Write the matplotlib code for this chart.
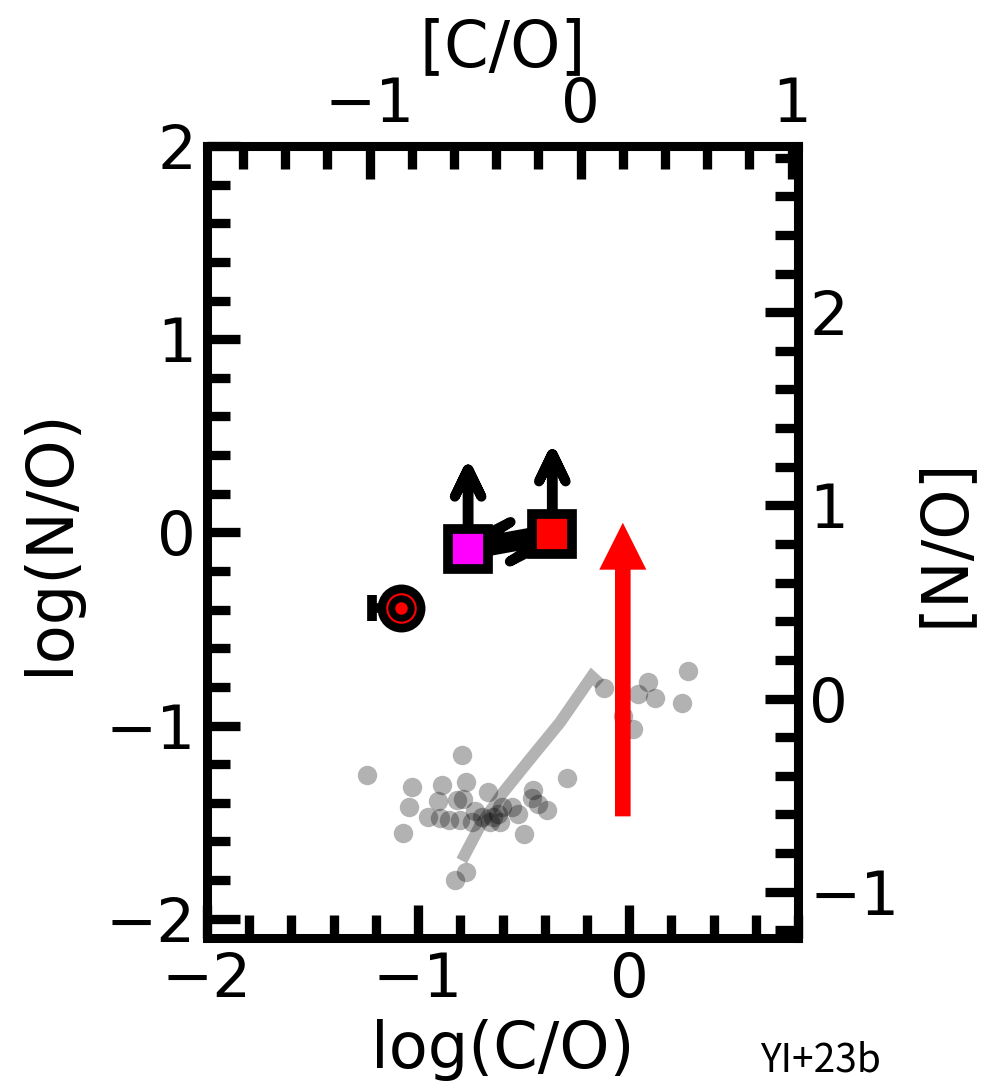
import numpy as np
import matplotlib.pyplot as plt
from matplotlib.ticker import MultipleLocator

# solar abundance ratios used for the bracket axes
CO_SUN = -0.23
NO_SUN = -0.86

# comparison sample (log C/O, log N/O)
ref_logCO = [-1.243, -0.791, -1.030, -0.888, -0.773, -1.044, -0.904, -1.073,
             -0.951, -0.896, -0.852, -0.817, -0.785, -0.801, -0.745, -0.730,
             -0.774, -0.825, -0.667, -0.295, -0.456, -0.461, -0.390, -0.430,
             -0.498, -0.525, -0.556, -0.603, -0.619, -0.643, -0.611, -0.659,
             -0.698, -0.118, 0.091, 0.044, 0.123, 0.281, 0.250, -0.027, 0.020]
ref_logNO = [-1.254, -1.152, -1.319, -1.306, -1.290, -1.421, -1.392, -1.554,
             -1.471, -1.476, -1.487, -1.383, -1.380, -1.488, -1.500, -1.440,
             -1.759, -1.802, -1.345, -1.273, -1.332, -1.376, -1.437, -1.406,
             -1.561, -1.457, -1.423, -1.423, -1.457, -1.474, -1.500, -1.500,
             -1.474, -0.803, -0.777, -0.837, -0.859, -0.717, -0.884, -0.952, -1.018]

# chemical evolution track
track_logCO = [-0.793, -0.706, -0.596, -0.469, -0.327, -0.177, -0.137]
track_logNO = [-1.699, -1.518, -1.345, -1.173, -0.983, -0.746, -0.786]

# individual objects
circ_CO, circ_NO, circ_CO_err = -1.08, -0.39, 0.137
mag_CO, mag_NO = -0.763, -0.088
red_CO, red_NO = -0.364, -0.009
limit_len = 0.413

# big red arrow (shift direction)
shift_CO = -0.03
shift_NO_start, shift_NO_end = -1.47, 0.05

fig = plt.figure(figsize=(10, 10.9), dpi=100)
ax = fig.add_axes([0.207, 0.1394, 0.591, 0.7266])

ax.plot(track_logCO, track_logNO, color='0.7', lw=8.5,
        solid_capstyle='butt', solid_joinstyle='miter', zorder=1)
ax.scatter(ref_logCO, ref_logNO, s=14**2, c='k', alpha=0.3, lw=0, zorder=2)

ax.arrow(shift_CO, shift_NO_start, 0, shift_NO_end - shift_NO_start,
         width=0.074, head_width=0.223, head_length=0.243,
         length_includes_head=True, fc='red', ec='none', zorder=3)

# circle object with one-sided error bar
ax.errorbar(circ_CO, circ_NO, xerr=[[circ_CO_err], [0]], fmt='none',
            ecolor='k', elinewidth=7, capsize=9.5, capthick=7, zorder=4)
ax.plot(circ_CO, circ_NO, 'o', ms=33, mfc='k', mec='k', mew=1.5, zorder=5)
ax.plot(circ_CO, circ_NO, 'o', ms=20.5, mfc='none', mec='red', mew=1.5, zorder=6)
ax.plot(circ_CO, circ_NO, 'o', ms=9, mfc='red', mec='none', zorder=6)

# lower limits in N/O (open arrow heads)
for x, y in [(mag_CO, mag_NO), (red_CO, red_NO)]:
    ax.arrow(x, y, 0, limit_len, width=0.004, head_width=0.126, head_length=0.14,
             overhang=1, length_includes_head=True, fc='k', ec='k', lw=7.2,
             joinstyle='round', capstyle='round', zorder=4)

# two half-headed arrows linking the pair
for (x0, y0), (x1, y1) in [((mag_CO, mag_NO), (red_CO, red_NO)),
                           ((red_CO, red_NO), (mag_CO, mag_NO))]:
    ax.arrow(x0, y0, x1 - x0, y1 - y0, width=0.055, head_width=0.2,
             head_length=0.225, shape='left', overhang=1,
             length_includes_head=True, fc='k', ec='k', lw=7.2,
             joinstyle='round', capstyle='round', zorder=4)

ax.plot(mag_CO, mag_NO, 's', ms=28.6, mfc='magenta', mec='k', mew=7, zorder=6)
ax.plot(red_CO, red_NO, 's', ms=28.6, mfc='red', mec='k', mew=7, zorder=6)

ax.set_xlim(-2, 0.8)
ax.set_ylim(-2.1, 2)

fs_tick = 44
fs_label = 46

for s in ax.spines.values():
    s.set_linewidth(6.5)

ax.xaxis.set_major_locator(MultipleLocator(1))
ax.xaxis.set_minor_locator(MultipleLocator(0.2))
ax.yaxis.set_major_locator(MultipleLocator(1))
ax.yaxis.set_minor_locator(MultipleLocator(0.2))
ax.tick_params(which='both', direction='in', width=6.7, top=False, right=False,
               labelsize=fs_tick)
ax.tick_params(which='major', length=24)
ax.tick_params(which='minor', length=16.5)
ax.tick_params(axis='x', pad=9)
ax.tick_params(axis='y', pad=8)
ax.set_xlabel('log(C/O)', fontsize=fs_label, labelpad=7)
ax.set_ylabel('log(N/O)', fontsize=fs_label, labelpad=18)

secx = ax.secondary_xaxis('top', functions=(lambda v: v - CO_SUN, lambda v: v + CO_SUN))
secy = ax.secondary_yaxis('right', functions=(lambda v: v - NO_SUN, lambda v: v + NO_SUN))
for sec, axis in [(secx, secx.xaxis), (secy, secy.yaxis)]:
    axis.set_major_locator(MultipleLocator(1))
    axis.set_minor_locator(MultipleLocator(0.2))
    sec.tick_params(which='both', direction='in', width=6.7, labelsize=fs_tick, pad=8)
    sec.tick_params(which='major', length=24)
    sec.tick_params(which='minor', length=16.5)
    for s in sec.spines.values():
        s.set_linewidth(6.5)
secx.set_xlabel('[C/O]', fontsize=fs_label, labelpad=7)
secy.set_ylabel('[N/O]', fontsize=fs_label, labelpad=10)

fig.text(0.821, 1 - 1071 / 1090, 'YI+23b', ha='center', va='baseline', fontsize=28,
         family=['Noto Sans CJK JP', 'DejaVu Sans'])

fig.savefig('out.png', dpi=100)
